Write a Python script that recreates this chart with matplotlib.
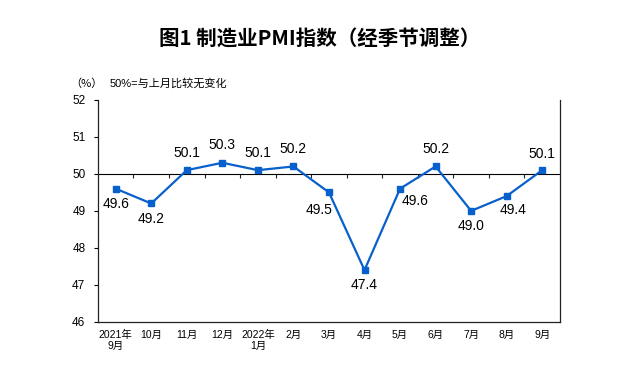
import numpy as np
import matplotlib
matplotlib.use('Agg')
import matplotlib.pyplot as plt

plt.rcParams['font.family'] = ['Liberation Sans', 'Noto Sans CJK SC', 'DejaVu Sans']

months = ['2021年\n9月', '10月', '11月', '12月', '2022年\n1月', '2月', '3月',
          '4月', '5月', '6月', '7月', '8月', '9月']
pmi = [49.6, 49.2, 50.1, 50.3, 50.1, 50.2, 49.5, 47.4, 49.6, 50.2, 49.0, 49.4, 50.1]
# label offsets in pixels (dx, dy) relative to each point
label_offsets = [(0, -15), (0, -16), (0, 17), (0, 18), (0, 17), (0, 17), (-10, -18),
                 (0, -15), (15, -12), (0, 17), (0, -15), (6, -14), (0, 16)]
yticks = [46, 47, 48, 49, 50, 51, 52]

line_color = '#0860CC'

fig = plt.figure(figsize=(6.4, 3.81), dpi=100)
ax = fig.add_axes([0.153, 0.155, 0.722, 0.583])

x = np.arange(len(pmi))
ax.plot(x, pmi, color=line_color, lw=1.6, marker='s', ms=4.5, zorder=3)

for xi, v, (dx, dy) in zip(x, pmi, label_offsets):
    ax.annotate(f'{v:.1f}', (xi, v), xytext=(dx * 0.72, dy * 0.72),
                textcoords='offset points', ha='center', va='center',
                fontsize=10, color='black')

ax.set_xlim(-0.5, len(pmi) - 0.5)
ax.set_ylim(46, 52)
ax.set_yticks(yticks)
ax.set_yticklabels([str(t) for t in yticks], fontsize=8.5)
ax.set_xticks(x)
ax.set_xticklabels(months, fontsize=7.5, linespacing=1.1)
ax.tick_params(axis='x', length=0, pad=6)
ax.tick_params(axis='y', length=3, width=0.8, pad=6)

ax.spines['top'].set_visible(False)
for s in ['left', 'bottom', 'right']:
    ax.spines[s].set_linewidth(0.9)
    ax.spines[s].set_color('#222222')

# category axis crossing at 50
sec = ax.secondary_xaxis((50 - 46) / 6)
sec.set_xticks(np.arange(0.5, len(pmi) - 1, 1))
sec.set_xticklabels([])
sec.tick_params(direction='in', length=3, width=0.8, color='#222222')
sec.spines['bottom'].set_linewidth(0.9)
sec.spines['bottom'].set_color('#222222')

fig.text(0.5, 0.898, '图1 制造业PMI指数（经季节调整）', ha='center', va='center',
         fontsize=14.8, fontweight='bold', family=['Noto Sans CJK SC', 'DejaVu Sans'])
fig.text(0.110, 0.78, '（%）', ha='left', va='center', fontsize=8,
         family=['Noto Sans CJK SC', 'DejaVu Sans'])
fig.text(0.172, 0.78, '50%=与上月比较无变化', ha='left', va='center', fontsize=8)

fig.savefig('out.png', dpi=100)
plt.close(fig)
